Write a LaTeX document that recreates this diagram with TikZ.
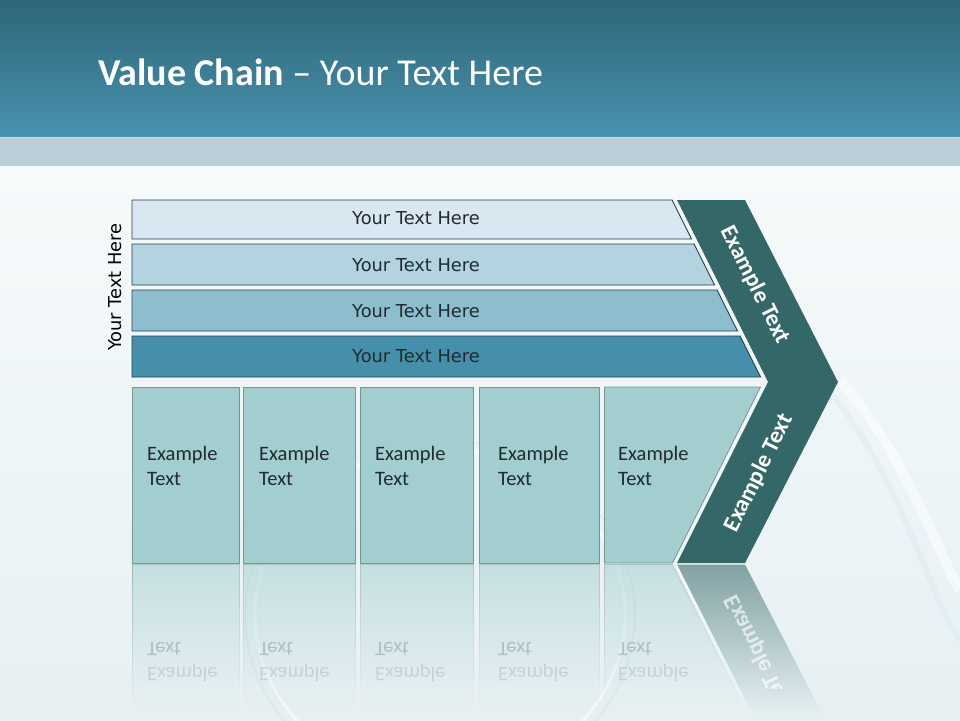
\documentclass[tikz,border=0pt]{standalone}
\usepackage{fontspec}
\setmainfont{Carlito}
\newfontfamily\dvfont{DejaVu Sans}
\usetikzlibrary{fadings}

\definecolor{hdrtop}{HTML}{2F6678}
\definecolor{hdrbot}{HTML}{4992AE}
\definecolor{bandcol}{HTML}{BCCFD9}
\definecolor{bgtop}{HTML}{F6FAFB}
\definecolor{bgbot}{HTML}{E6F0F3}
\definecolor{swirl}{HTML}{C9DEE5}
\definecolor{barA}{HTML}{D9E8F0}
\definecolor{barB}{HTML}{B3D3E0}
\definecolor{barC}{HTML}{8EBDCE}
\definecolor{barD}{HTML}{468FAB}
\definecolor{barline}{HTML}{23414F}
\definecolor{boxfill}{HTML}{A3CECF}
\definecolor{boxline}{HTML}{7E9495}
\definecolor{chev}{HTML}{346767}
\definecolor{darktxt}{HTML}{1E2B30}

\tikzfading[name=reflfade, top color=transparent!48, bottom color=transparent!100]
\tikzfading[name=chevfade, top color=transparent!42, middle color=transparent!85, bottom color=transparent!100]

\begin{document}
\begin{tikzpicture}[x=1pt,y=-1pt,
  barshape/.style={draw=barline, line width=0.9pt},
  bartext/.style={font=\dvfont\fontsize{17.8}{21}\selectfont, text=darktxt, inner sep=0pt},
  boxshape/.style={fill=boxfill, draw=boxline, line width=0.8pt},
  boxtext/.style={font=\fontsize{20.5}{25}\selectfont, text=darktxt, inner sep=0pt, anchor=base west},
  chevtext/.style={font=\bfseries\fontsize{23.5}{27}\selectfont, text=white, inner sep=0pt},
  reflbox/.style={fill=boxfill, draw=boxline, line width=0.6pt, path fading=reflfade},
  refltextA/.style={boxtext, opacity=0.22, transform shape},
  refltextB/.style={boxtext, opacity=0.13, transform shape}]
\useasboundingbox (0,0) rectangle (960,720);

% background
\fill[top color=bgtop, bottom color=bgbot] (0,166) rectangle (960,720);
\draw[swirl, line width=2pt, opacity=0.3] (440,615) ellipse (195 and 175);
\draw[white, line width=3pt, opacity=0.5] (440,615) ellipse (185 and 166);
\draw[swirl, line width=6pt, opacity=0.2] (820,380) .. controls (900,470) and (930,600) .. (960,640);
\draw[white, line width=10pt, opacity=0.5] (840,380) .. controls (910,460) and (940,560) .. (960,590);

% header
\fill[top color=hdrtop, bottom color=hdrbot] (0,0) rectangle (960,137);
\fill[bandcol] (0,137) rectangle (960,166);
\draw[white, opacity=0.25, line width=1pt] (0,137.5) -- (960,137.5);
\node[anchor=base west, text=white, inner sep=0pt, font=\fontsize{38}{42}\selectfont] (title) at (98,85) {\textbf{Value Chain} – Your Text Here};

% side label
\node[font=\dvfont\fontsize{17.8}{21}\selectfont, text=black, rotate=90, inner sep=0pt] (side) at (115,287) {Your Text Here};

% bars
\path[barshape, fill=barA] (132,200) -- (672,200) -- (691.5,239) -- (132,239) -- cycle;
\path[barshape, fill=barB] (132,244) -- (694,244) -- (714.5,285) -- (132,285) -- cycle;
\path[barshape, fill=barC] (132,290) -- (717,290) -- (737.5,331) -- (132,331) -- cycle;
\path[barshape, fill=barD] (132,336) -- (740,336) -- (760.5,377) -- (132,377) -- cycle;
\node[bartext] (bt1) at (416,218.5) {Your Text Here};
\node[bartext] (bt2) at (416,265.5) {Your Text Here};
\node[bartext] (bt3) at (416,311) {Your Text Here};
\node[bartext] (bt4) at (416,356.5) {Your Text Here};

% boxes
\path[boxshape] (132,387) rectangle (239,563);
\path[boxshape] (243.5,387) rectangle (355,563);
\path[boxshape] (360.5,387) rectangle (473,563);
\path[boxshape] (479.5,387) rectangle (599,563);
\path[boxshape] (604.5,387) -- (760.5,387) -- (672.5,563) -- (604.5,563) -- cycle;
\foreach \i/\x in {1/147,2/259,3/375,4/498,5/618}{
  \node[boxtext] (ba\i) at (\x,460) {Example};
  \node[boxtext] (bb\i) at (\x,485) {Text};
}

% chevron
\fill[chev] (677,200) -- (745,200) -- (838,382) -- (745,563) -- (677,563) -- (768,382) -- cycle;
\node[chevtext, rotate=-63.43] (ce1) at (755,285) {Example Text};
\node[chevtext, rotate=63.43] (ce2) at (759,473) {Example Text};

% reflections
\path[reflbox] (132,564.5) rectangle (239,705);
\path[reflbox] (243.5,564.5) rectangle (355,705);
\path[reflbox] (360.5,564.5) rectangle (473,705);
\path[reflbox] (479.5,564.5) rectangle (599,705);
\path[reflbox] (604.5,564.5) -- (672.5,564.5) -- (743,705) -- (604.5,705) -- cycle;
\fill[chev, path fading=chevfade] (677,564.5) -- (745,564.5) -- (823,715) -- (753,715) -- cycle;
\draw[white, line width=2pt, path fading=chevfade] (676,565) -- (752,715);
\begin{scope}[shift={(0,1127)}, yscale=-1]
  \foreach \i/\x in {1/147,2/259,3/375,4/498,5/618}{
    \node[refltextB] (ra\i) at (\x,460) {Example};
    \node[refltextA] (rb\i) at (\x,485) {Text};
  }
\end{scope}
\begin{scope}
  \clip (660,564) rectangle (860,688);
  \begin{scope}[shift={(0,1127)}, yscale=-1]
    \node[chevtext, rotate=63.43, transform shape, opacity=0.65] (rce) at (759,473) {Example Text};
  \end{scope}
\end{scope}
\end{tikzpicture}
\end{document}
